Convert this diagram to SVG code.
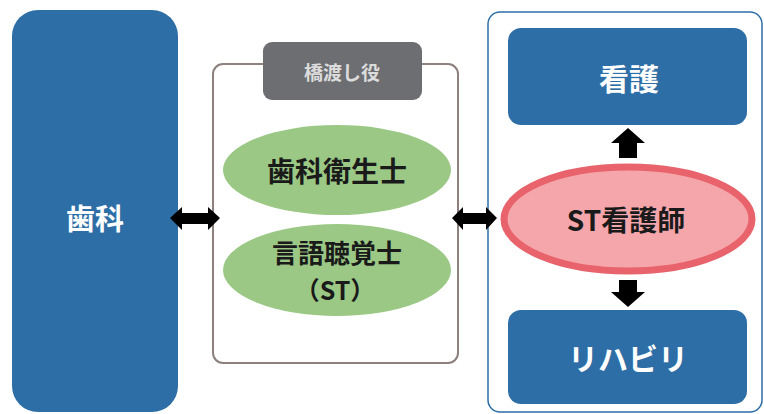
<svg xmlns="http://www.w3.org/2000/svg" width="764" height="414" viewBox="0 0 764 414">
<style>
.t{font-family:"Noto Sans CJK JP","Noto Sans",sans-serif;font-weight:bold;text-anchor:middle;dominant-baseline:central}
.w{fill:#ffffff}
.k{fill:#1a1a1a}
.blue{fill:#2e6ea6}
.arr{fill:#000000}
</style>
<rect width="764" height="414" fill="#ffffff"/>
<g id="dental">
<rect class="blue" x="12" y="10" width="166" height="402" rx="26"/>
<text class="t w" x="95" y="217" font-size="29">歯科</text>
</g>
<g id="bridge">
<rect x="213" y="64" width="245" height="299" rx="10" fill="#ffffff" stroke="#8c817d" stroke-width="2"/>
<rect x="263" y="42" width="159" height="58" rx="9" fill="#6d6e71"/>
<text class="t" x="342" y="71" font-size="19" fill="#dcdcdc" font-weight="normal">橋渡し役</text>
</g>
<g id="hygienist">
<ellipse cx="337" cy="170" rx="114" ry="45" fill="#9bc985"/>
<text class="t k" x="337" y="170" font-size="28">歯科衛生士</text>
</g>
<g id="st">
<ellipse cx="337" cy="270" rx="114" ry="46" fill="#9bc985"/>
<text class="t k" x="337" y="251" font-size="26">言語聴覚士</text>
<text class="t k" x="335" y="289" font-size="25">（ST）</text>
</g>
<g id="hospital">
<rect x="488" y="12" width="274" height="400" rx="12" fill="#ffffff" stroke="#2e6ea6" stroke-width="1.5"/>
</g>
<g id="nursing">
<rect class="blue" x="508" y="28" width="239" height="97" rx="13"/>
<text class="t w" x="629" y="77" font-size="30">看護</text>
</g>
<g id="rehab">
<rect class="blue" x="508" y="310" width="239" height="94" rx="13"/>
<text class="t w" x="628" y="357" font-size="30">リハビリ</text>
</g>
<g id="st-nurse">
<ellipse cx="628" cy="219" rx="124" ry="52" fill="#f5a6ab" stroke="#e8636b" stroke-width="7"/>
<text class="t k" x="626" y="219" font-size="28">ST看護師</text>
</g>
<g id="connectors">
<polygon class="arr" points="170,218 182,207 182,213 208,213 208,207 220,218 208,230 208,224 182,224 182,230"/>
<polygon class="arr" points="452,218 463,207 463,213 486,213 486,207 497,218 486,230 486,224 463,224 463,230"/>
<polygon class="arr" points="628,128 645,143 637,143 637,158 619,158 619,143 611,143"/>
<polygon class="arr" points="628,307 645,292 637,292 637,280 619,280 619,292 611,292"/>
</g>
</svg>
